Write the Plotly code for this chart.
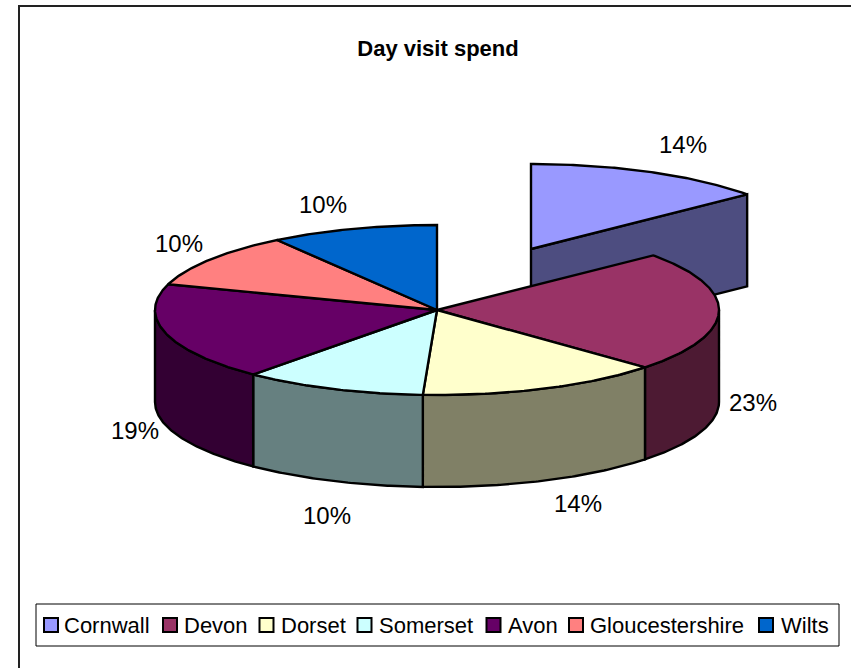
import numpy as np
import plotly.graph_objects as go

title = "Day visit spend"
counties = ["Cornwall", "Devon", "Dorset", "Somerset", "Avon", "Gloucestershire", "Wilts"]
spend_share = [13.9, 22.9, 14.0, 10.5, 18.6, 10.5, 9.6]
top_colors = ["#9999FF", "#993366", "#FFFFCC", "#CCFFFF", "#660066", "#FF8080", "#0066CC"]
side_colors = ["#4D4D80", "#4D1A33", "#808066", "#668080", "#330033", "#804040", "#003366"]
exploded_slice = 0

# pie geometry, expressed in the pixel-sized axis units set below
W, H = 851, 668
CX, CY, RX, RY, DEPTH = 437, 310, 282, 85, 92
EXPLODE = (94, -61)
label_xy = [(683, 144), (753, 402), (578, 503), (327, 515), (135, 430), (179, 243), (323, 204)]
key_x = [51, 170, 266.5, 364.5, 493.5, 576, 766]
key_text_x = [62, 182, 279, 377, 506, 588, 779]
key_y = 625


def rim(a0, a1, cx, cy, drop=0):
    t = np.radians(np.linspace(a0, a1, max(int(abs(a1 - a0)) * 2, 2)))
    return cx + RX * np.sin(t), cy - RY * np.cos(t) + drop


def face(fig, xs, ys, color):
    fig.add_trace(go.Scatter(x=list(xs), y=list(ys), mode="lines", fill="toself", fillcolor=color,
                             line=dict(color="black", width=2.4), showlegend=False, hoverinfo="skip"))


fig = go.Figure()

edges = np.cumsum([0] + spend_share) / sum(spend_share) * 360
spans = list(zip(edges[:-1], edges[1:]))

# exploded slice: its cut face first, then everything else over it
a0, a1 = spans[exploded_slice]
ex, ey = CX + EXPLODE[0], CY + EXPLODE[1]
rx, ry = rim(a1, a1, ex, ey)
face(fig, [ex, rx[0], rx[0], ex, ex], [ey, ry[0], ry[0] + DEPTH, ey + DEPTH, ey], side_colors[exploded_slice])

# front wall of the remaining slices
for i, (a0, a1) in enumerate(spans):
    if i == exploded_slice:
        continue
    lo, hi = max(a0, 90), min(a1, 270)
    if lo < hi:
        tx, ty = rim(lo, hi, CX, CY)
        bx, by = rim(lo, hi, CX, CY, DEPTH)
        face(fig, np.r_[tx, bx[::-1], tx[0]], np.r_[ty, by[::-1], ty[0]], side_colors[i])

# top faces
for i, (a0, a1) in enumerate(spans):
    cx, cy = (ex, ey) if i == exploded_slice else (CX, CY)
    tx, ty = rim(a0, a1, cx, cy)
    face(fig, np.r_[cx, tx, cx], np.r_[cy, ty, cy], top_colors[i])

# colour key, spaced as in the source (Plotly's own legend cannot be set this tight)
for name, color, x in zip(counties, top_colors, key_x):
    fig.add_trace(go.Scatter(x=[x], y=[key_y], mode="markers", name=name, hoverinfo="name",
                             showlegend=False,
                             marker=dict(symbol="square", size=14, color=color,
                                         line=dict(color="black", width=2))))

annotations = [dict(x=x, y=y, text=f"{round(v)}%", showarrow=False, xref="x", yref="y",
                    font=dict(size=24, color="black"))
               for (x, y), v in zip(label_xy, spend_share)]
annotations += [dict(x=x, y=key_y, text=name, showarrow=False, xref="x", yref="y", xanchor="left",
                     font=dict(size=22, color="black"))
                for x, name in zip(key_text_x, counties)]

fig.update_layout(
    width=W, height=H, autosize=False,
    margin=dict(l=0, r=0, t=0, b=0),
    paper_bgcolor="white", plot_bgcolor="white",
    font=dict(family="Liberation Sans, Arial, sans-serif", color="black"),
    title=dict(text=f"<b>{title}</b>", x=438 / W, y=1 - 48 / H, xanchor="center", yanchor="middle",
               font=dict(size=22, color="black")),
    xaxis=dict(range=[0, W], visible=False, fixedrange=True),
    yaxis=dict(range=[H, 0], visible=False, fixedrange=True),
    annotations=annotations,
    showlegend=False,
    shapes=[
        dict(type="rect", xref="x", yref="y", x0=19, y0=6, x1=W + 5, y1=H + 5,
             line=dict(color="#222222", width=2), layer="below"),
        dict(type="rect", xref="x", yref="y", x0=36, y0=604, x1=839, y1=646,
             line=dict(color="black", width=1), layer="below"),
    ],
)

fig.write_html("out.html", config=dict(displayModeBar=False),
               post_script="document.body.style.margin='0';")
